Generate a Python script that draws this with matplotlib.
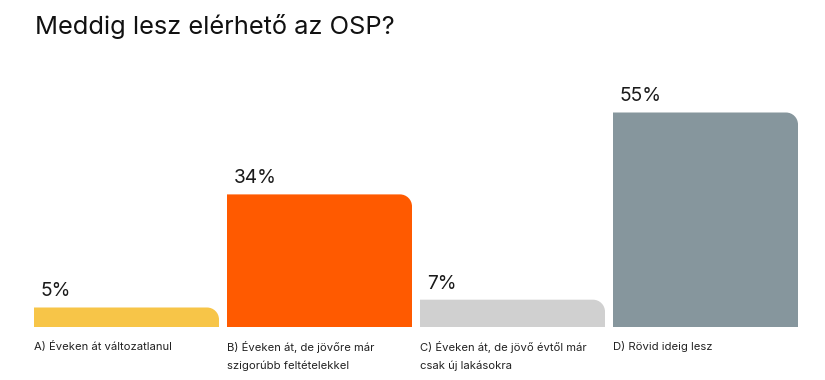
import numpy as np
import matplotlib
matplotlib.use("Agg")
from matplotlib import pyplot as plt
from matplotlib.path import Path
from matplotlib.patches import PathPatch

# data
#-----------------------------------------------------------------------------
title = "Meddig lesz elérhető az OSP?"
categories = ["A) Éveken át változatlanul",
              "B) Éveken át, de jövőre már\nszigorúbb feltételekkel",
              "C) Éveken át, de jövő évtől már\ncsak új lakásokra",
              "D) Rövid ideig lesz"]
values = [5, 34, 7, 55]
colors = ["#F7C548", "#FF5A00", "#D0D0D0", "#86969D"]
#-----------------------------------------------------------------------------

plt.rcParams['font.family'] = ['Inter', 'DejaVu Sans']

W, H = 825, 380
fig = plt.figure(figsize=(W/100, H/100), dpi=100)
# axes spans bar area: x 34..798 px, baseline at 327 px, top at 90 px
ax = fig.add_axes([34/W, (H-327)/H, (798-34)/W, (327-90)/H])

pitch = 193.0  # px between bar starts
width = 185.0/pitch
px_per_pct = 3.9
ymax = (327-90)/px_per_pct
x = np.arange(len(values))
bars = ax.bar(x, values, width=width, color=colors, align='edge')
ax.set_xlim(0, len(values)-1+width)
ax.set_ylim(0, ymax)
ax.axis('off')

# replace plain rectangles with top-right rounded ones
r_px = 12
rx = r_px/pitch
ry = r_px/px_per_pct
k = 0.5523
for b in bars:
    x0, y0 = b.get_x(), b.get_y()
    x1, h = x0 + b.get_width(), b.get_height()
    verts = [(x0, y0), (x0, h), (x1-rx, h),
             (x1-rx+k*rx, h), (x1, h-ry+k*ry), (x1, h-ry),
             (x1, y0), (x0, y0)]
    codes = [Path.MOVETO, Path.LINETO, Path.LINETO,
             Path.CURVE4, Path.CURVE4, Path.CURVE4,
             Path.LINETO, Path.CLOSEPOLY]
    ax.add_patch(PathPatch(Path(verts, codes), facecolor=b.get_facecolor(),
                           edgecolor='none'))
    b.set_visible(False)

for i, v in enumerate(values):
    ax.annotate(f"{v}%", xy=(x[i], v), xytext=(5, 8), textcoords='offset points',
                ha='left', va='baseline', fontsize=13.8, color='#1a1a1a')
    ax.annotate(categories[i], xy=(x[i], 0), xytext=(0, -10), textcoords='offset points',
                ha='left', va='top', fontsize=8.1, color='#222222', linespacing=1.9)

fig.text(35/W, 1-34/H, title, ha='left', va='baseline', fontsize=18.3, color='#111111')

fig.savefig("out.png", dpi=100)
